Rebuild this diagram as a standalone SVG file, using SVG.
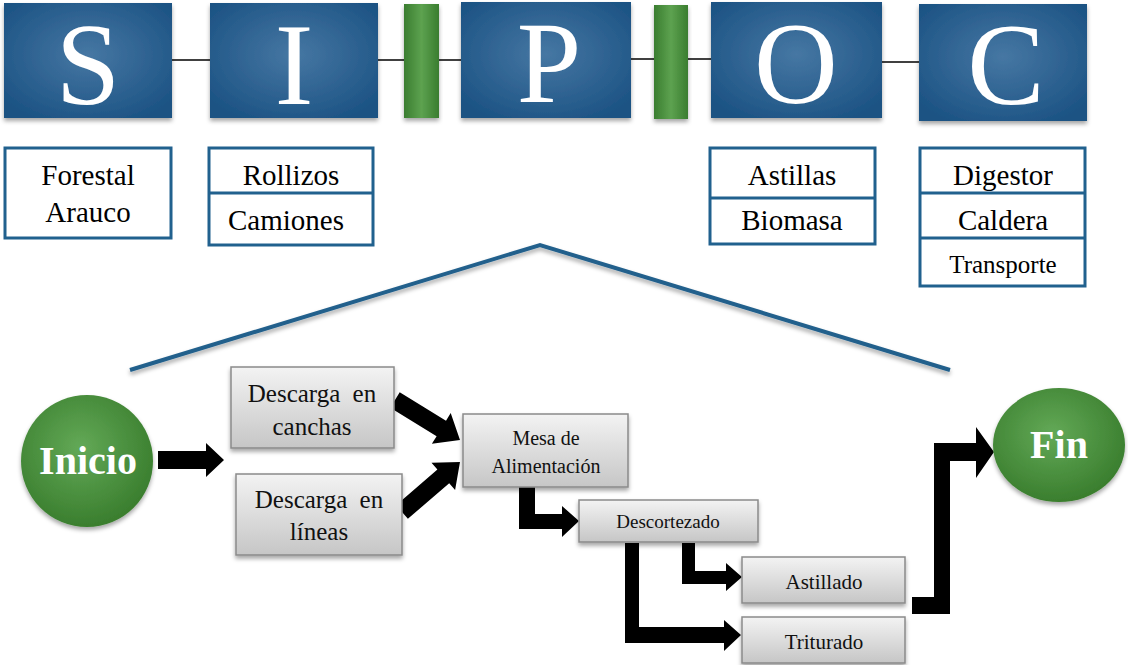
<svg xmlns="http://www.w3.org/2000/svg" width="1128" height="665" viewBox="0 0 1128 665">
<defs>
<radialGradient id="blue" cx="50%" cy="45%" r="65%">
<stop offset="0" stop-color="#4677a3"/>
<stop offset="1" stop-color="#1b5283"/>
</radialGradient>
<linearGradient id="gbar" x1="0" y1="0" x2="1" y2="0">
<stop offset="0" stop-color="#3a7d2f"/>
<stop offset="0.5" stop-color="#5da250"/>
<stop offset="1" stop-color="#3a7d2f"/>
</linearGradient>
<radialGradient id="gcirc" cx="45%" cy="40%" r="60%">
<stop offset="0" stop-color="#63a957"/>
<stop offset="1" stop-color="#3a7e2e"/>
</radialGradient>
<linearGradient id="gray" x1="0" y1="0" x2="0" y2="1">
<stop offset="0" stop-color="#f3f3f3"/>
<stop offset="1" stop-color="#c6c6c6"/>
</linearGradient>
<filter id="sh" x="-10%" y="-10%" width="120%" height="130%">
<feDropShadow dx="0" dy="3" stdDeviation="2" flood-color="#000" flood-opacity="0.35"/>
</filter>
<style>
.bb{fill:url(#blue)}
.gb{fill:url(#gbar)}
.lbl{fill:#fff;stroke:#21618e;stroke-width:3}
.gbox{fill:url(#gray);stroke:#8a8a8a;stroke-width:1.5}
.circ{fill:url(#gcirc)}
.arr{fill:#000}
.ln{stroke:#000;stroke-width:1.5}
</style>
</defs>
<rect width="1128" height="665" fill="#fff"/>

<g id="connectors">
<line class="ln" x1="172" y1="60" x2="210" y2="60"/>
<line class="ln" x1="378" y1="60" x2="404" y2="60"/>
<line class="ln" x1="439" y1="60" x2="461" y2="60"/>
<line class="ln" x1="631" y1="59" x2="654" y2="59"/>
<line class="ln" x1="688" y1="59" x2="711" y2="59"/>
<line class="ln" x1="882" y1="62" x2="919" y2="62"/>
<path d="M130,370 L540,245 L950,370" fill="none" stroke="#22608c" stroke-width="4" filter="url(#sh)"/>
<polygon class="arr" points="158,451 206,451 206,443 224,460 206,477 206,469 158,469"/>
<polygon class="arr" points="399.7,392.3 446,420.8 450.7,413.1 460,440 431.9,443.8 436.6,436.2 390.3,407.7"/>
<polygon class="arr" points="396.1,505.2 437.4,469.6 431.5,462.8 460,462 455.1,490 449.2,483.2 407.9,518.8"/>
<polygon class="arr" points="519,487 535,487 535,514 562,514 562,506 579,521 562,537 562,529 519,529"/>
<polygon class="arr" points="682,543 695,543 695,571 726,571 726,563 742,577 726,591 726,584 682,584"/>
<polygon class="arr" points="625,543 639,543 639,627 724,627 724,620 741,635 724,651 724,643 625,643"/>
<polygon class="arr" points="912,597 934,597 934,443 976,443 976,427 994,452 976,478 976,461 950,461 950,614 912,614"/>
</g>

<g id="S"><rect class="bb" x="4" y="3" width="168" height="115" filter="url(#sh)"/><text font-family="'Liberation Serif', serif" font-size="116" fill="#fff" text-anchor="middle" x="88" y="104">S</text></g>
<g id="I"><rect class="bb" x="210" y="3" width="168" height="115" filter="url(#sh)"/><text font-family="'Liberation Serif', serif" font-size="116" fill="#fff" text-anchor="middle" x="294" y="104">I</text></g>
<g id="bar1"><rect class="gb" x="404" y="4" width="35" height="114" filter="url(#sh)"/></g>
<g id="P"><rect class="bb" x="461" y="2" width="170" height="116" filter="url(#sh)"/><text font-family="'Liberation Serif', serif" font-size="116" fill="#fff" text-anchor="middle" x="549" y="102">P</text></g>
<g id="bar2"><rect class="gb" x="654" y="5" width="34" height="114" filter="url(#sh)"/></g>
<g id="O"><rect class="bb" x="711" y="2" width="171" height="116" filter="url(#sh)"/><text font-family="'Liberation Serif', serif" font-size="116" fill="#fff" text-anchor="middle" x="796" y="103">O</text></g>
<g id="C"><rect class="bb" x="919" y="4" width="168" height="117" filter="url(#sh)"/><text font-family="'Liberation Serif', serif" font-size="116" fill="#fff" text-anchor="middle" x="1006" y="104">C</text></g>

<g id="suppliers"><rect class="lbl" x="5" y="148" width="166" height="90"/><text font-family="'Liberation Serif', serif" font-size="29" text-anchor="middle" x="88" y="185">Forestal</text><text font-family="'Liberation Serif', serif" font-size="29" text-anchor="middle" x="88" y="222">Arauco</text></g>
<g id="inputs"><rect class="lbl" x="209" y="148" width="164" height="97"/><line x1="209" y1="193" x2="373" y2="193" stroke="#21618e" stroke-width="3"/><text font-family="'Liberation Serif', serif" font-size="29" text-anchor="middle" x="291" y="185">Rollizos</text><text font-family="'Liberation Serif', serif" font-size="29" text-anchor="middle" x="286" y="230">Camiones</text></g>
<g id="outputs"><rect class="lbl" x="710" y="148" width="165" height="96"/><line x1="710" y1="198" x2="875" y2="198" stroke="#21618e" stroke-width="3"/><text font-family="'Liberation Serif', serif" font-size="29" text-anchor="middle" x="792" y="185">Astillas</text><text font-family="'Liberation Serif', serif" font-size="29" text-anchor="middle" x="792" y="230">Biomasa</text></g>
<g id="customers"><rect class="lbl" x="920" y="148" width="165" height="138"/><line x1="920" y1="193" x2="1085" y2="193" stroke="#21618e" stroke-width="3"/><line x1="920" y1="238" x2="1085" y2="238" stroke="#21618e" stroke-width="3"/><text font-family="'Liberation Serif', serif" font-size="29" text-anchor="middle" x="1003" y="185">Digestor</text><text font-family="'Liberation Serif', serif" font-size="29" text-anchor="middle" x="1003" y="230">Caldera</text><text font-family="'Liberation Serif', serif" font-size="25" text-anchor="middle" x="1003" y="273">Transporte</text></g>

<g id="inicio"><ellipse class="circ" cx="87" cy="461" rx="66" ry="66" filter="url(#sh)"/><text font-family="'Liberation Serif', serif" font-weight="bold" font-size="40" fill="#fff" text-anchor="middle" x="88" y="474">Inicio</text></g>
<g id="canchas"><rect class="gbox" x="231" y="367" width="163" height="81" filter="url(#sh)"/><text font-family="'Liberation Serif', serif" font-size="25" fill="#111" text-anchor="middle" x="312" y="402" word-spacing="6">Descarga en</text><text font-family="'Liberation Serif', serif" font-size="25" fill="#111" text-anchor="middle" x="312" y="435">canchas</text></g>
<g id="lineas"><rect class="gbox" x="236" y="474" width="166" height="81" filter="url(#sh)"/><text font-family="'Liberation Serif', serif" font-size="25" fill="#111" text-anchor="middle" x="319" y="508" word-spacing="6">Descarga en</text><text font-family="'Liberation Serif', serif" font-size="25" fill="#111" text-anchor="middle" x="319" y="540">líneas</text></g>
<g id="mesa"><rect class="gbox" x="463" y="414" width="165" height="73" filter="url(#sh)"/><text font-family="'Liberation Serif', serif" font-size="20" fill="#111" text-anchor="middle" x="546" y="445">Mesa de</text><text font-family="'Liberation Serif', serif" font-size="20" fill="#111" text-anchor="middle" x="546" y="473">Alimentación</text></g>
<g id="descortezado"><rect class="gbox" x="579" y="500" width="179" height="42" filter="url(#sh)"/><text font-family="'Liberation Serif', serif" font-size="19" fill="#111" text-anchor="middle" x="668" y="528">Descortezado</text></g>
<g id="astillado"><rect class="gbox" x="742" y="557" width="163" height="46" filter="url(#sh)"/><text font-family="'Liberation Serif', serif" font-size="21" fill="#111" text-anchor="middle" x="824" y="589">Astillado</text></g>
<g id="triturado"><rect class="gbox" x="742" y="617" width="163" height="46" filter="url(#sh)"/><text font-family="'Liberation Serif', serif" font-size="21" fill="#111" text-anchor="middle" x="824" y="649">Triturado</text></g>
<g id="fin"><ellipse class="circ" cx="1059" cy="445" rx="66" ry="57" filter="url(#sh)"/><text font-family="'Liberation Serif', serif" font-weight="bold" font-size="40" fill="#fff" text-anchor="middle" x="1059" y="458">Fin</text></g>
</svg>
